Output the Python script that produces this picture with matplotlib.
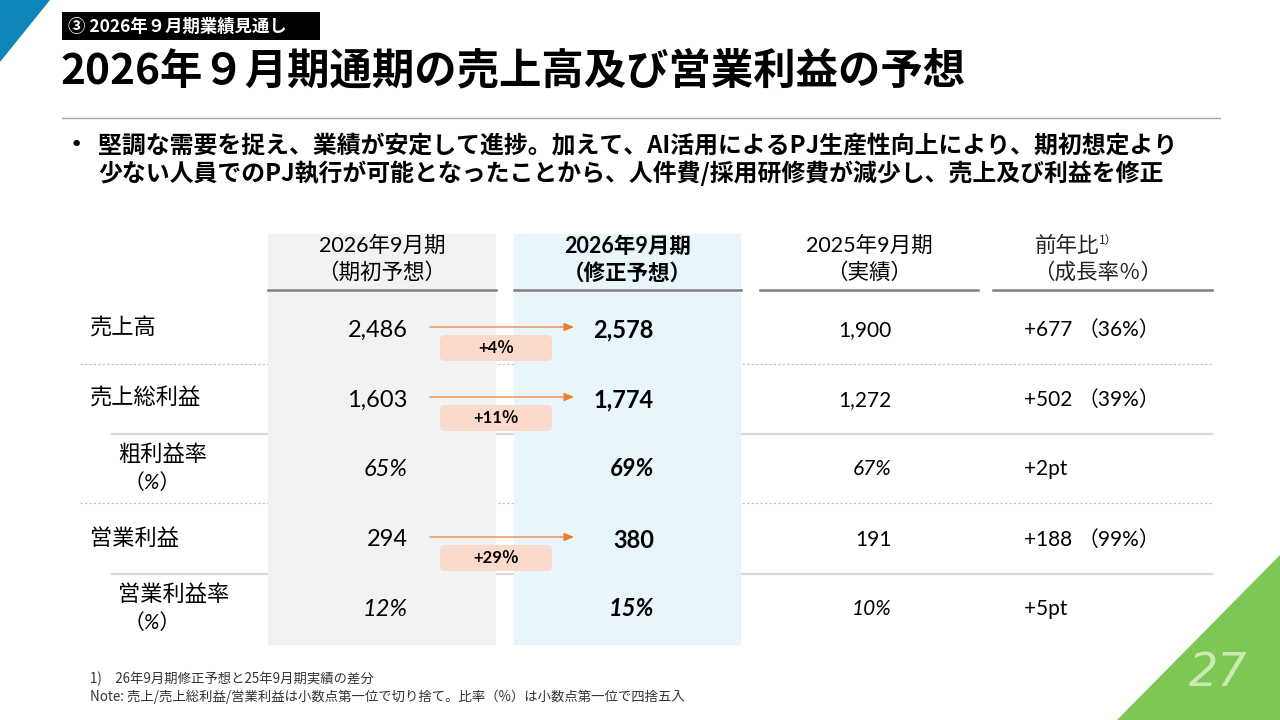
import matplotlib
matplotlib.use("Agg")
import matplotlib.pyplot as plt
from matplotlib.patches import Polygon, Rectangle, FancyBboxPatch

plt.rcParams['font.family'] = ['Noto Sans CJK JP', 'DejaVu Sans']
NUM = ['Lato', 'Noto Sans CJK JP', 'DejaVu Sans']

# Table data (百万円)
row_labels = ["売上高", "売上総利益", "粗利益率", "営業利益", "営業利益率"]
is_ratio = [False, False, True, False, True]
initial_plan = [2486, 1603, 65, 294, 12]
revised_plan = [2578, 1774, 69, 380, 15]
actual_2025 = [1900, 1272, 67, 191, 10]
yoy_diff = ["+677", "+502", "+2pt", "+188", "+5pt"]
yoy_growth = ["（36%）", "（39%）", "", "（99%）", ""]
revision_pct = ["+4％", "+11％", "", "+29％", ""]

headers = [("2026年9月期", "（期初予想）"), ("2026年9月期", "（修正予想）"),
           ("2025年9月期", "（実績）"), ("前年比", "（成長率％）")]


def fmt(v, ratio):
    return f"{v}%" if ratio else f"{v:,}"


fig = plt.figure(figsize=(12.8, 7.2), dpi=100)
ax = fig.add_axes([0, 0, 1, 1])
ax.set_xlim(0, 1280)
ax.set_ylim(720, 0)
ax.axis('off')

# corner decorations
ax.add_patch(Polygon([(0, 0), (50, 0), (0, 62)], closed=True, color='#0E86BA', lw=0))
ax.add_patch(Polygon([(1117, 720), (1280, 555), (1280, 720)], closed=True, color='#7DC855', lw=0))
ax.text(1218, 673, "27", family=['DejaVu Sans'], style='oblique',
        fontsize=33, color='#C9EBB3', ha='center', va='center')

# section label and title
ax.add_patch(Rectangle((62, 12), 258, 28, color='black', lw=0))
ax.text(68, 26.5, "③ 2026年９月期業績見通し", color='white', fontsize=12.5, weight='bold',
        va='center', ha='left')
ax.text(60, 71, "2026年９月期通期の売上高及び営業利益の予想", fontsize=30.5, weight='bold',
        va='center', ha='left', color='black')
ax.plot([62, 1220], [118, 118], color='#A6A6A6', lw=1)

# bullet text
ax.text(70, 145, "•", fontsize=16, va='center', ha='left', family=['DejaVu Sans'])
ax.text(98, 145, "堅調な需要を捉え、業績が安定して進捗。加えて、AI活用によるPJ生産性向上により、期初想定より",
        fontsize=17.2, weight='bold', va='center', ha='left')
ax.text(98, 173, "少ない人員でのPJ執行が可能となったことから、人件費/採用研修費が減少し、売上及び利益を修正",
        fontsize=17.2, weight='bold', va='center', ha='left')

# row separators (drawn under the column shading)
row_y = [330, 400, 469, 540, 609]
sep_y = [364, 434, 503, 574]
for i, yy in enumerate(sep_y):
    if i % 2 == 0:
        ax.plot([80, 1212], [yy, yy], color='#BFBFBF', lw=0.8, ls=(0, (2, 2)), zorder=1)
    else:
        ax.plot([112, 1212], [yy, yy], color='#D9D9D9', lw=1.6, zorder=1)

# column shading
ax.add_patch(Rectangle((268, 234), 228, 411, color='#F2F2F2', lw=0, zorder=2))
ax.add_patch(Rectangle((514, 234), 227, 411, color='#E8F5FA', lw=0, zorder=2))

# header
col_span = [(268, 496), (514, 741), (760, 978), (993, 1212)]
for k, ((x0, x1), (h1, h2)) in enumerate(zip(col_span, headers)):
    ax.plot([x0, x1], [290, 290], color='#7F7F7F', lw=1.8, zorder=3)
    cx = (x0 + x1) / 2
    wt = 'bold' if k == 1 else 'normal'
    if k == 3:
        ax.text(1067, 246, h1, fontsize=15.5, ha='center', va='center', color='#222222', zorder=4)
        ax.text(1099, 240, "1）", fontsize=8.5, ha='left', va='center', color='#222222', zorder=4)
        ax.text(1098, 273, h2, fontsize=15.5, ha='center', va='center', color='#222222', zorder=4)
    else:
        ax.text(cx, 246, h1, fontsize=15.5, weight=wt, ha='center', va='center',
                family=NUM, color='black', zorder=4)
        ax.text(cx, 273, h2, fontsize=15.5, weight=wt, ha='center', va='center',
                color='black', zorder=4)

# rows
for i, lab in enumerate(row_labels):
    y = row_y[i]
    r = is_ratio[i]
    st = 'italic' if r else 'normal'
    if r:
        ax.text(118, y - 15, lab, fontsize=16, ha='left', va='center', zorder=4)
        ax.text(124, y + 14, "（%）", fontsize=15, ha='left', va='center',
                family=NUM, style='italic', zorder=4)
    else:
        ax.text(90, y - 2, lab, fontsize=16, ha='left', va='center', zorder=4)
    ax.text(408, y, fmt(initial_plan[i], r), fontsize=17, family=NUM, style=st,
            ha='right', va='center', zorder=4)
    ax.text(654, y, fmt(revised_plan[i], r), fontsize=17, family=NUM, style=st,
            weight='bold', ha='right', va='center', zorder=4)
    ax.text(892, y, fmt(actual_2025[i], r), fontsize=15, family=NUM, style=st,
            ha='right', va='center', zorder=4)
    ax.text(1024, y, yoy_diff[i], fontsize=15, family=NUM, ha='left', va='center', zorder=4)
    if yoy_growth[i]:
        ax.text(1078, y, yoy_growth[i], fontsize=15, family=NUM, ha='left', va='center', zorder=4)
    if revision_pct[i]:
        ay = y - 3
        ax.annotate("", xy=(574, ay), xytext=(430, ay), zorder=5,
                    arrowprops=dict(arrowstyle='-|>,head_length=0.6,head_width=0.25',
                                    color='#ED7D31', lw=0.9, shrinkA=0, shrinkB=0))
        ax.add_patch(FancyBboxPatch((440, y + 5), 112, 26, boxstyle='round,pad=0,rounding_size=5',
                                    color='#FBDACB', lw=0, zorder=4))
        ax.text(496, y + 18, revision_pct[i], fontsize=12, weight='bold', family=NUM,
                ha='center', va='center', zorder=5)

# footnotes
ax.text(90, 679, "1)　26年9月期修正予想と25年9月期実績の差分", fontsize=9.6, ha='left',
        va='center', color='#333333')
ax.text(90, 697, "Note: 売上/売上総利益/営業利益は小数点第一位で切り捨て。比率（%）は小数点第一位で四捨五入",
        fontsize=9.6, ha='left', va='center', color='#333333')

fig.savefig("out.png", dpi=100)
